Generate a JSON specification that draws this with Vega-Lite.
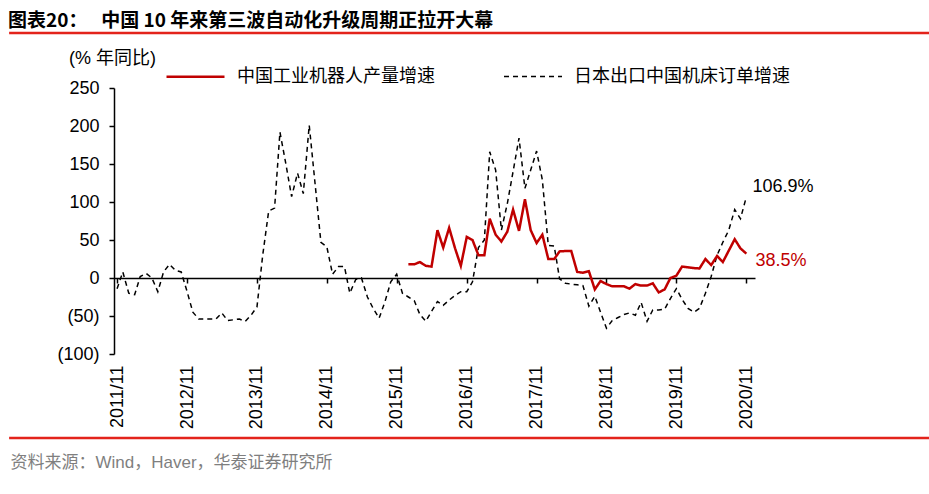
{
  "$schema": "https://vega.github.io/schema/vega-lite/v6.json",
  "width": 641,
  "height": 266,
  "autosize": "none",
  "padding": {"left": 114, "top": 88, "right": 174, "bottom": 140},
  "background": "white",
  "config": {
    "view": {"stroke": null},
    "font": "Liberation Sans, Noto Sans CJK SC",
    "axisY": {
      "labelFontSize": 18,
      "labelColor": "black",
      "labelPadding": 10,
      "labelOverlap": false,
      "tickSize": 5,
      "tickWidth": 1.5,
      "tickColor": "black",
      "domainColor": "black",
      "domainWidth": 1.5,
      "grid": false
    }
  },
  "title": {
    "text": "图表20：\u3000 中国 10 年来第三波自动化升级周期正拉开大幕",
    "anchor": "start",
    "frame": "group",
    "dx": -106,
    "fontSize": 19,
    "font": "Noto Sans CJK SC",
    "fontWeight": "bold",
    "color": "black",
    "offset": 1
  },
  "layer": [
    {
      "data": {
        "values": [
          {"month": "2011/11/01", "japan": -14},
          {"month": "2011/12/01", "japan": 8},
          {"month": "2012/01/01", "japan": -20},
          {"month": "2012/02/01", "japan": -22},
          {"month": "2012/03/01", "japan": 2},
          {"month": "2012/04/01", "japan": 6},
          {"month": "2012/05/01", "japan": 0},
          {"month": "2012/06/01", "japan": -18},
          {"month": "2012/07/01", "japan": 8},
          {"month": "2012/08/01", "japan": 18},
          {"month": "2012/09/01", "japan": 10},
          {"month": "2012/10/01", "japan": 8},
          {"month": "2012/11/01", "japan": -18},
          {"month": "2012/12/01", "japan": -45},
          {"month": "2013/01/01", "japan": -54},
          {"month": "2013/02/01", "japan": -54},
          {"month": "2013/03/01", "japan": -54},
          {"month": "2013/04/01", "japan": -54},
          {"month": "2013/05/01", "japan": -46},
          {"month": "2013/06/01", "japan": -56},
          {"month": "2013/07/01", "japan": -55},
          {"month": "2013/08/01", "japan": -54},
          {"month": "2013/09/01", "japan": -57},
          {"month": "2013/10/01", "japan": -49},
          {"month": "2013/11/01", "japan": -38},
          {"month": "2013/12/01", "japan": 30},
          {"month": "2014/01/01", "japan": 88},
          {"month": "2014/02/01", "japan": 92},
          {"month": "2014/03/01", "japan": 192},
          {"month": "2014/04/01", "japan": 150},
          {"month": "2014/05/01", "japan": 107},
          {"month": "2014/06/01", "japan": 138},
          {"month": "2014/07/01", "japan": 111},
          {"month": "2014/08/01", "japan": 201},
          {"month": "2014/09/01", "japan": 123},
          {"month": "2014/10/01", "japan": 47},
          {"month": "2014/11/01", "japan": 41},
          {"month": "2014/12/01", "japan": 5},
          {"month": "2015/01/01", "japan": 15},
          {"month": "2015/02/01", "japan": 15},
          {"month": "2015/03/01", "japan": -20},
          {"month": "2015/04/01", "japan": -2},
          {"month": "2015/05/01", "japan": 0},
          {"month": "2015/06/01", "japan": -25},
          {"month": "2015/07/01", "japan": -40},
          {"month": "2015/08/01", "japan": -53},
          {"month": "2015/09/01", "japan": -31},
          {"month": "2015/10/01", "japan": -5},
          {"month": "2015/11/01", "japan": 5},
          {"month": "2015/12/01", "japan": -20},
          {"month": "2016/01/01", "japan": -25, "robot": 18},
          {"month": "2016/02/01", "japan": -30, "robot": 18},
          {"month": "2016/03/01", "japan": -48, "robot": 21},
          {"month": "2016/04/01", "japan": -57, "robot": 16},
          {"month": "2016/05/01", "japan": -44, "robot": 15},
          {"month": "2016/06/01", "japan": -31, "robot": 63},
          {"month": "2016/07/01", "japan": -36, "robot": 40},
          {"month": "2016/08/01", "japan": -29, "robot": 66},
          {"month": "2016/09/01", "japan": -23, "robot": 39},
          {"month": "2016/10/01", "japan": -18, "robot": 16},
          {"month": "2016/11/01", "japan": -18, "robot": 54},
          {"month": "2016/12/01", "japan": -5, "robot": 50},
          {"month": "2017/01/01", "japan": 40, "robot": 30},
          {"month": "2017/02/01", "japan": 50, "robot": 30},
          {"month": "2017/03/01", "japan": 166, "robot": 78},
          {"month": "2017/04/01", "japan": 142, "robot": 57},
          {"month": "2017/05/01", "japan": 63, "robot": 48},
          {"month": "2017/06/01", "japan": 98, "robot": 61},
          {"month": "2017/07/01", "japan": 140, "robot": 90},
          {"month": "2017/08/01", "japan": 184, "robot": 62},
          {"month": "2017/09/01", "japan": 118, "robot": 103.5},
          {"month": "2017/10/01", "japan": 142, "robot": 63},
          {"month": "2017/11/01", "japan": 167, "robot": 46},
          {"month": "2017/12/01", "japan": 129, "robot": 57},
          {"month": "2018/01/01", "japan": 43, "robot": 25},
          {"month": "2018/02/01", "japan": 42, "robot": 25},
          {"month": "2018/03/01", "japan": -1, "robot": 35},
          {"month": "2018/04/01", "japan": -7, "robot": 35.5},
          {"month": "2018/05/01", "japan": -8, "robot": 35.5},
          {"month": "2018/06/01", "japan": -9, "robot": 8},
          {"month": "2018/07/01", "japan": -10, "robot": 7},
          {"month": "2018/08/01", "japan": -37, "robot": 9},
          {"month": "2018/09/01", "japan": -24, "robot": -15},
          {"month": "2018/10/01", "japan": -45, "robot": -4},
          {"month": "2018/11/01", "japan": -66, "robot": -8},
          {"month": "2018/12/01", "japan": -56, "robot": -11},
          {"month": "2019/01/01", "japan": -52, "robot": -11},
          {"month": "2019/02/01", "japan": -48, "robot": -11},
          {"month": "2019/03/01", "japan": -46, "robot": -14},
          {"month": "2019/04/01", "japan": -49, "robot": -8},
          {"month": "2019/05/01", "japan": -32, "robot": -10},
          {"month": "2019/06/01", "japan": -57, "robot": -10},
          {"month": "2019/07/01", "japan": -42, "robot": -7},
          {"month": "2019/08/01", "japan": -42, "robot": -19},
          {"month": "2019/09/01", "japan": -41, "robot": -15},
          {"month": "2019/10/01", "japan": -27, "robot": 0},
          {"month": "2019/11/01", "japan": -14, "robot": 3},
          {"month": "2019/12/01", "japan": -28, "robot": 15},
          {"month": "2020/01/01", "japan": -40, "robot": 14},
          {"month": "2020/02/01", "japan": -45, "robot": 13},
          {"month": "2020/03/01", "japan": -40, "robot": 12.6},
          {"month": "2020/04/01", "japan": -20, "robot": 25},
          {"month": "2020/05/01", "japan": 2, "robot": 17},
          {"month": "2020/06/01", "japan": 30, "robot": 29},
          {"month": "2020/07/01", "japan": 47, "robot": 21},
          {"month": "2020/08/01", "japan": 63, "robot": 36},
          {"month": "2020/09/01", "japan": 90, "robot": 51},
          {"month": "2020/10/01", "japan": 78, "robot": 39},
          {"month": "2020/11/01", "japan": 106.9, "robot": 32}
        ]
      },
      "transform": [
        {"fold": ["robot", "japan"], "as": ["series", "value"]},
        {"filter": "isValid(datum.value)"}
      ],
      "mark": {"type": "line", "strokeCap": "butt"},
      "encoding": {
        "x": {
          "field": "month",
          "type": "temporal",
          "scale": {
            "domain": [
              {"year": 2011, "month": 10, "date": 16},
              {"year": 2020, "month": 12, "date": 16}
            ]
          },
          "axis": {
            "values": [
              {"year": 2011, "month": 11, "date": 1},
              {"year": 2012, "month": 11, "date": 1},
              {"year": 2013, "month": 11, "date": 1},
              {"year": 2014, "month": 11, "date": 1},
              {"year": 2015, "month": 11, "date": 1},
              {"year": 2016, "month": 11, "date": 1},
              {"year": 2017, "month": 11, "date": 1},
              {"year": 2018, "month": 11, "date": 1},
              {"year": 2019, "month": 11, "date": 1},
              {"year": 2020, "month": 11, "date": 1}
            ],
            "tickCount": 20,
            "format": "%Y/%m",
            "labelAngle": -90,
            "labelAlign": "right",
            "labelBaseline": "middle",
            "labelFontSize": 18,
            "labelColor": "black",
            "labelPadding": 82,
            "labelFlush": false,
            "labelOverlap": false,
            "offset": -76,
            "tickSize": 5,
            "tickWidth": 1.5,
            "tickColor": "black",
            "domainColor": "black",
            "domainWidth": 1.5,
            "grid": false,
            "title": "资料来源：Wind，Haver，华泰证券研究所",
            "titleAnchor": "start",
            "titleAlign": "left",
            "titleBaseline": "middle",
            "titleX": -104,
            "titleY": 184,
            "titleFontSize": 17,
            "titleFontWeight": "normal",
            "titleColor": "#7f7f7f",
            "titleFont": "Liberation Sans, Noto Sans CJK SC"
          }
        },
        "y": {
          "field": "value",
          "type": "quantitative",
          "scale": {"domain": [-100, 250], "nice": false, "zero": false},
          "axis": {
            "values": [-100, -50, 0, 50, 100, 150, 200, 250],
            "tickCount": 8,
            "labelExpr": "datum.value < 0 ? '(' + (-datum.value) + ')' : datum.label",
            "title": "(% 年同比)",
            "titleAngle": 0,
            "titleX": -2,
            "titleY": -30,
            "titleAlign": "center",
            "titleBaseline": "middle",
            "titleFontSize": 18,
            "titleFontWeight": "normal",
            "titleColor": "black",
            "titleFont": "Liberation Sans, Noto Sans CJK SC"
          }
        },
        "color": {
          "field": "series",
          "type": "nominal",
          "scale": {"domain": ["robot", "japan"], "range": ["#C00000", "#000000"]},
          "legend": {
            "orient": "none",
            "legendX": 51,
            "legendY": -42,
            "direction": "horizontal",
            "title": null,
            "symbolType": "stroke",
            "symbolSize": 3364,
            "labelFontSize": 18,
            "labelFont": "Noto Sans CJK SC",
            "labelColor": "black",
            "labelOffset": 11,
            "labelLimit": 400,
            "columnPadding": 66,
            "labelExpr": "datum.value == 'robot' ? '中国工业机器人产量增速' : '日本出口中国机床订单增速'"
          }
        },
        "strokeDash": {
          "field": "series",
          "type": "nominal",
          "scale": {"domain": ["robot", "japan"], "range": [[1, 0], [5, 4]]}
        },
        "strokeWidth": {
          "field": "series",
          "type": "nominal",
          "scale": {"domain": ["robot", "japan"], "range": [2.5, 1.5]}
        }
      }
    },
    {
      "data": {"values": [{"month": "2020/11/01", "value": 106.9, "label": "106.9%"}]},
      "mark": {"type": "text", "align": "left", "baseline": "middle", "dx": 6, "dy": -10, "fontSize": 18, "color": "black", "font": "Liberation Sans"},
      "encoding": {
        "x": {"field": "month", "type": "temporal"},
        "y": {"field": "value", "type": "quantitative"},
        "text": {"field": "label"}
      }
    },
    {
      "data": {"values": [{"month": "2020/11/01", "value": 38.5, "label": "38.5%"}]},
      "mark": {"type": "text", "align": "left", "baseline": "middle", "dx": 9, "dy": 12, "fontSize": 18, "color": "#C00000", "font": "Liberation Sans"},
      "encoding": {
        "x": {"field": "month", "type": "temporal"},
        "y": {"field": "value", "type": "quantitative"},
        "text": {"field": "label"}
      }
    },
    {
      "data": {"values": [{"edge": "top"}]},
      "mark": {"type": "rule", "color": "#E3231B", "strokeWidth": 2.5, "clip": false},
      "encoding": {
        "y": {"datum": 322.4, "type": "quantitative"},
        "x": {"datum": {"expr": "datetime(2010, 3, 16)"}, "type": "temporal"},
        "x2": {"datum": {"expr": "datetime(2024, 0, 1)"}}
      }
    },
    {
      "data": {"values": [{"edge": "bottom"}]},
      "mark": {"type": "rule", "color": "#E3231B", "strokeWidth": 2.5, "clip": false},
      "encoding": {
        "y": {"datum": -210.5, "type": "quantitative"},
        "x": {"datum": {"expr": "datetime(2010, 3, 16)"}, "type": "temporal"},
        "x2": {"datum": {"expr": "datetime(2024, 0, 1)"}}
      }
    }
  ]
}
